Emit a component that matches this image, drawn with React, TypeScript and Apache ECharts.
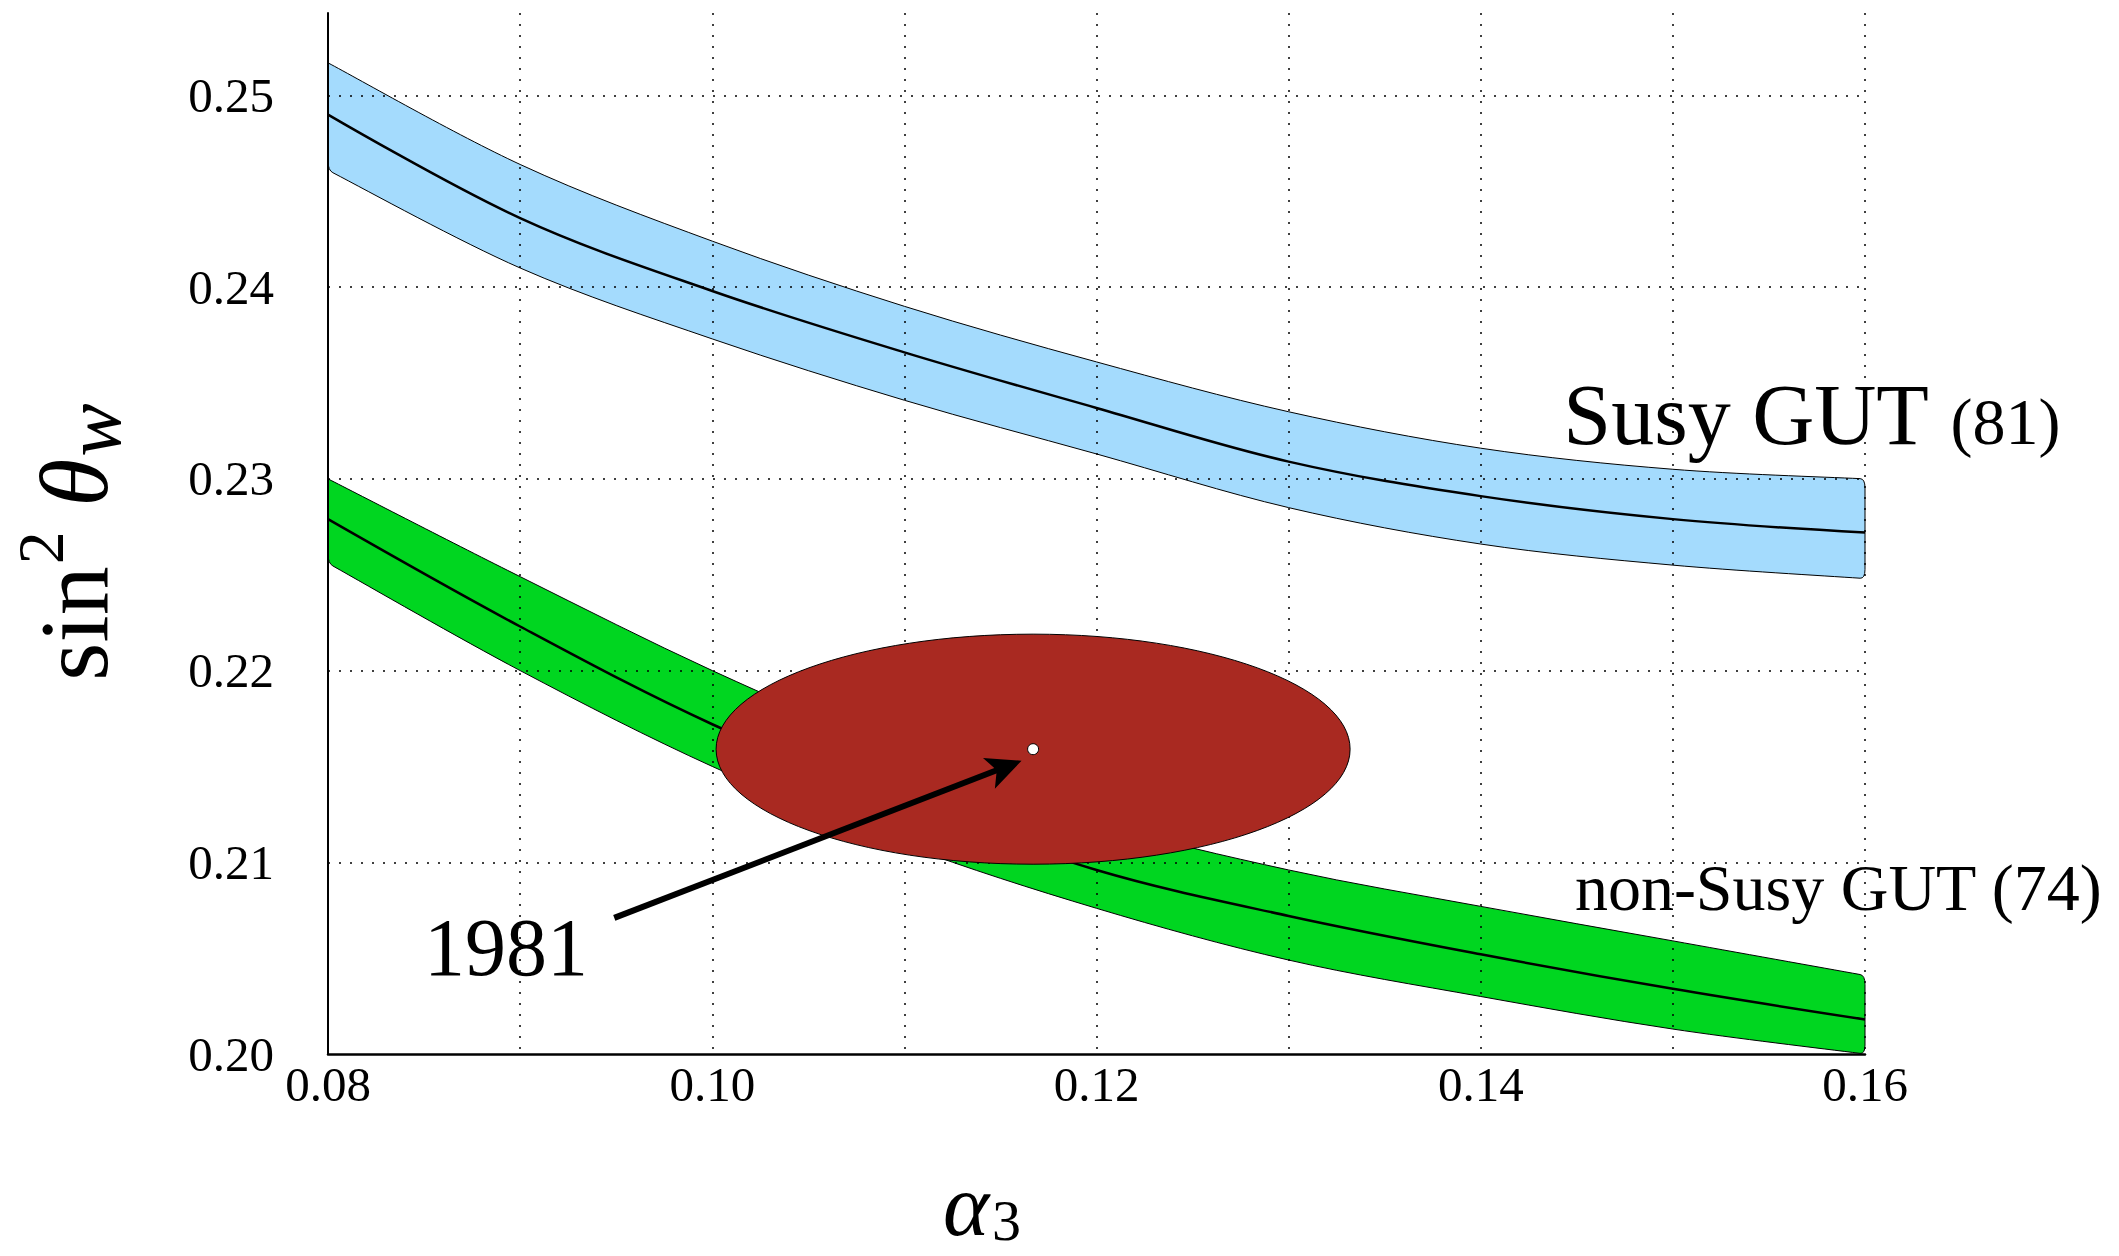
import React, { useEffect, useRef } from "react";
import * as echarts from "echarts";

// ---------- data ----------
const ALPHA_S = [0.08, 0.09, 0.1, 0.11, 0.12, 0.13, 0.14, 0.15, 0.16];

const SUSY_UPPER = [0.2517, 0.2464, 0.2424, 0.239, 0.2361, 0.2335, 0.2316, 0.2305, 0.23];
const SUSY_CENTER = [0.249, 0.2436, 0.2398, 0.2366, 0.2337, 0.2309, 0.2291, 0.2279, 0.2272];
const SUSY_LOWER = [0.2461, 0.241, 0.2373, 0.2341, 0.2313, 0.2285, 0.2266, 0.2255, 0.2248];

const NONSUSY_UPPER = [0.23, 0.2249, 0.22, 0.2157, 0.2121, 0.2096, 0.2077, 0.2059, 0.2041];
const NONSUSY_CENTER = [0.2279, 0.2223, 0.2172, 0.2131, 0.2096, 0.2072, 0.2052, 0.2034, 0.2018];
const NONSUSY_LOWER = [0.2256, 0.22, 0.215, 0.2109, 0.2076, 0.2049, 0.203, 0.2013, 0.2];

const ELLIPSE_CENTER = [0.1167, 0.2159];
const ELLIPSE_RADII = [0.0165, 0.006];

const ARROW_TAIL = [0.0949, 0.2071];
const ARROW_TIP = [0.1161, 0.2153];

const X_TICK_LABELS = ["0.08", "0.10", "0.12", "0.14", "0.16"];
const Y_TICK_LABELS = ["0.20", "0.21", "0.22", "0.23", "0.24", "0.25"];
const Y_GRID = [0.21, 0.22, 0.23, 0.24, 0.25];

// label anchors: [alpha_s, sin^2 theta] of the text's left end on its baseline
const SUSY_LABEL_AT = [0.1443, 0.2318];
const NONSUSY_LABEL_AT = [0.1449, 0.2075];
const YEAR_LABEL_AT = [0.085, 0.2041];

const FONT = "Liberation Serif, Times New Roman, serif";

type Pt = number[];
type Seg = [Pt, Pt, Pt, Pt];

// Catmull-Rom through the points, as cubic Bezier segments (pixel space)
function segments(P: Pt[]): Seg[] {
  const out: Seg[] = [];
  for (let i = 0; i < P.length - 1; i++) {
    const p0 = P[Math.max(i - 1, 0)];
    const p1 = P[i];
    const p2 = P[i + 1];
    const p3 = P[Math.min(i + 2, P.length - 1)];
    out.push([
      p1,
      [p1[0] + (p2[0] - p0[0]) / 6, p1[1] + (p2[1] - p0[1]) / 6],
      [p2[0] - (p3[0] - p1[0]) / 6, p2[1] - (p3[1] - p1[1]) / 6],
      p2,
    ]);
  }
  return out;
}

function lerp(a: Pt, b: Pt, t: number): Pt {
  return [a[0] + (b[0] - a[0]) * t, a[1] + (b[1] - a[1]) * t];
}

function split(s: Seg, t: number): [Seg, Seg] {
  const [p0, p1, p2, p3] = s;
  const a = lerp(p0, p1, t), b = lerp(p1, p2, t), c = lerp(p2, p3, t);
  const d = lerp(a, b, t), e = lerp(b, c, t);
  const m = lerp(d, e, t);
  return [[p0, a, d, m], [m, e, c, p3]];
}

const C = (s: Seg) => ` C${s[1][0]} ${s[1][1]} ${s[2][0]} ${s[2][1]} ${s[3][0]} ${s[3][1]}`;

function bandPath(U: Pt[], Lrev: Pt[], r: number): string {
  const su = segments(U);
  const sl = segments(Lrev);
  // trim end of upper curve, start and end of lower curve for rounded corners
  const lastU = su[su.length - 1];
  const tU = 1 - r / Math.abs(lastU[3][0] - lastU[0][0]);
  const [uKeep] = split(lastU, tU);
  su[su.length - 1] = uKeep;
  const firstL = sl[0];
  const [, lKeep] = split(firstL, r / Math.abs(firstL[3][0] - firstL[0][0]));
  sl[0] = lKeep;
  const lastL = sl[sl.length - 1];
  const [lEnd] = split(lastL, 1 - r / Math.abs(lastL[3][0] - lastL[0][0]));
  sl[sl.length - 1] = lEnd;

  const ue = U[U.length - 1];
  const ls = Lrev[0];
  const le = Lrev[Lrev.length - 1];
  let d = `M${U[0][0]} ${U[0][1]}`;
  su.forEach((s) => (d += C(s)));
  d += ` Q${ue[0]} ${ue[1]} ${ue[0]} ${ue[1] + r}`;
  d += ` L${ls[0]} ${ls[1] - r}`;
  d += ` Q${ls[0]} ${ls[1]} ${sl[0][0][0]} ${sl[0][0][1]}`;
  sl.forEach((s) => (d += C(s)));
  d += ` Q${le[0]} ${le[1]} ${le[0]} ${le[1] - r}`;
  d += " Z";
  return d;
}

function bandSeries(name: string, up: number[], lo: number[], color: string) {
  return {
    type: "custom",
    name,
    z: 1,
    clip: false,
    silent: true,
    data: [[ALPHA_S[0], up[0]]],
    renderItem: (_params: any, api: any) => {
      const U = ALPHA_S.map((x, i) => api.coord([x, up[i]]));
      const L = ALPHA_S.map((x, i) => api.coord([x, lo[i]])).reverse();
      return {
        type: "path",
        shape: { pathData: bandPath(U, L, 9) },
        style: { fill: color, stroke: "#000", lineWidth: 1, lineJoin: "round" },
      };
    },
  };
}

function centerSeries(name: string, ys: number[], extra: any = {}) {
  return {
    type: "line",
    name,
    z: 2,
    silent: true,
    smooth: 0.35,
    showSymbol: false,
    symbol: "none",
    lineStyle: { color: "#000", width: 2.5 },
    data: ALPHA_S.map((x, i) => [x, ys[i]]),
    ...extra,
  };
}

function isTick(v: number, list: string[]) {
  const s = v.toFixed(2);
  return list.includes(s) && Math.abs(v - Number(s)) < 1e-9 ? s : "";
}

let measureCtx: CanvasRenderingContext2D | null = null;
function measure(text: string, font: string): number {
  if (!measureCtx) measureCtx = document.createElement("canvas").getContext("2d");
  measureCtx!.font = font;
  return measureCtx!.measureText(text).width;
}

// a text piece placed with its left end on a baseline
function piece(text: string, size: number, x: number, baseline: number, italic = false) {
  const font = `${italic ? "italic " : ""}${size}px ${FONT}`;
  return {
    type: "text",
    z: 10,
    x,
    y: baseline - 0.34 * size,
    style: { text, font, align: "left", verticalAlign: "middle", fill: "#000" },
  };
}

export default function App() {
  const ref = useRef<HTMLDivElement>(null);

  useEffect(() => {
    const chart = echarts.init(ref.current!, null, { renderer: "svg" });

    const option: any = {
      animation: false,
      backgroundColor: "#ffffff",
      textStyle: { fontFamily: FONT },
      grid: { left: 328, right: 254, top: 13, bottom: 202, containLabel: false },
      xAxis: {
        type: "value",
        min: 0.08,
        max: 0.16,
        interval: 0.01,
        z: 2,
        axisLine: { show: true, onZero: false, lineStyle: { color: "#000", width: 2.5 } },
        axisTick: { show: false },
        axisLabel: {
          fontFamily: FONT,
          fontSize: 49,
          color: "#000",
          margin: 6,
          formatter: (v: number) => isTick(v, X_TICK_LABELS),
        },
        splitLine: { show: true, lineStyle: { color: "#000", width: 1.5, type: [2, 9] } },
      },
      yAxis: {
        type: "value",
        min: 0.2,
        max: 0.2543,
        interval: 0.01,
        z: 2,
        axisLine: { show: true, onZero: false, lineStyle: { color: "#000", width: 2 } },
        axisTick: { show: false },
        axisLabel: {
          fontFamily: FONT,
          fontSize: 49,
          color: "#000",
          margin: 54,
          padding: [0, 0, 8, 0],
          formatter: (v: number) => isTick(v, Y_TICK_LABELS),
        },
        splitLine: { show: false },
      },
      series: [
        bandSeries("Susy GUT band", SUSY_UPPER, SUSY_LOWER, "#a4dbfd"),
        bandSeries("non-Susy GUT band", NONSUSY_UPPER, NONSUSY_LOWER, "#00d620"),
        centerSeries("Susy GUT", SUSY_CENTER),
        centerSeries("non-Susy GUT", NONSUSY_CENTER, {
          markLine: {
            silent: true,
            z: 2,
            symbol: ["none", "none"],
            label: { show: false },
            emphasis: { disabled: true },
            lineStyle: { color: "#000", width: 1.5, type: [2, 9] },
            data: Y_GRID.map((v) => ({ yAxis: v })),
          },
        }),
        {
          type: "custom",
          name: "1981 measurement",
          z: 3,
          clip: false,
          silent: true,
          data: [ELLIPSE_CENTER],
          renderItem: (_p: any, api: any) => {
            const c = api.coord([api.value(0), api.value(1)]);
            const s = api.size([ELLIPSE_RADII[0], ELLIPSE_RADII[1]]);
            return {
              type: "ellipse",
              shape: { cx: c[0], cy: c[1], rx: s[0], ry: s[1] },
              style: { fill: "#a92921", stroke: "#000", lineWidth: 1 },
            };
          },
        },
        {
          type: "custom",
          name: "arrow",
          z: 4,
          clip: false,
          silent: true,
          data: [[ARROW_TAIL[0], ARROW_TAIL[1], ARROW_TIP[0], ARROW_TIP[1]]],
          encode: { x: [0, 2], y: [1, 3] },
          renderItem: (_p: any, api: any) => {
            const a = api.coord([api.value(0), api.value(1)]);
            const b = api.coord([api.value(2), api.value(3)]);
            const dx = b[0] - a[0];
            const dy = b[1] - a[1];
            const len = Math.hypot(dx, dy);
            const ux = dx / len;
            const uy = dy / len;
            const nx = -uy;
            const ny = ux;
            const L = 35;
            const W = 16.5;
            const bx = b[0] - L * ux;
            const by = b[1] - L * uy;
            const notchX = b[0] - 0.76 * L * ux;
            const notchY = b[1] - 0.76 * L * uy;
            return {
              type: "group",
              children: [
                {
                  type: "line",
                  shape: { x1: a[0], y1: a[1], x2: notchX + 2 * ux, y2: notchY + 2 * uy },
                  style: { stroke: "#000", lineWidth: 6, lineCap: "butt" },
                },
                {
                  type: "polygon",
                  shape: {
                    points: [
                      [b[0], b[1]],
                      [bx + W * nx, by + W * ny],
                      [notchX, notchY],
                      [bx - W * nx, by - W * ny],
                    ],
                  },
                  style: { fill: "#000" },
                },
              ],
            };
          },
        },
        {
          type: "scatter",
          name: "central value",
          z: 5,
          silent: true,
          symbol: "circle",
          symbolSize: 11,
          itemStyle: { color: "#ffffff", borderColor: "#000", borderWidth: 1, opacity: 1 },
          data: [ELLIPSE_CENTER],
        },
      ],
    };

    chart.setOption(option);

    const px = (p: number[]) => chart.convertToPixel({ gridIndex: 0 }, p) as number[];
    const susy = px(SUSY_LABEL_AT);
    const non = px(NONSUSY_LABEL_AT);
    const year = px(YEAR_LABEL_AT);

    // y-axis title  sin^2 θ_w  (laid out along local x, then rotated)
    const wSin = measure("sin", `98px ${FONT}`);
    const w2 = measure("2", `66px ${FONT}`);
    const wTh = measure(" θ", `italic 98px ${FONT}`);
    const wW = measure("w", `italic 80px ${FONT}`);
    const yTotal = wSin + w2 + wTh + wW + 4;
    let lx = -yTotal / 2;
    const yTitle: any[] = [];
    yTitle.push(piece("sin", 98, lx, 0));
    lx += wSin + 2;
    yTitle.push(piece("2", 66, lx, -44));
    lx += w2;
    yTitle.push(piece(" θ", 98, lx, 0, true));
    lx += wTh + 2;
    yTitle.push(piece("w", 80, lx, 13, true));

    // x-axis title  α_3
    const wA = measure("α", `italic 88px ${FONT}`);
    const w3 = measure("3", `58px ${FONT}`);
    const xStart = 982 - (wA + w3 + 3) / 2;

    // "Susy GUT (81)"
    const wSusy = measure("Susy GUT ", `86px ${FONT}`);

    chart.setOption({
      graphic: [
        {
          type: "group",
          x: 107,
          y: 542,
          rotation: Math.PI / 2,
          children: yTitle,
        },
        piece("α", 88, xStart, 1235, true),
        piece("3", 58, xStart + wA + 3, 1240),
        piece("Susy GUT ", 86, susy[0], susy[1]),
        piece("(81)", 66, susy[0] + wSusy, susy[1]),
        piece("non-Susy GUT (74)", 66, non[0], non[1]),
        piece("1981", 82, year[0], year[1]),
      ],
    });

    return () => {
      chart.dispose();
    };
  }, []);

  return (
    <div
      ref={ref}
      style={{ position: "fixed", left: 0, top: 0, width: 2119, height: 1256, background: "#fff" }}
    />
  );
}
